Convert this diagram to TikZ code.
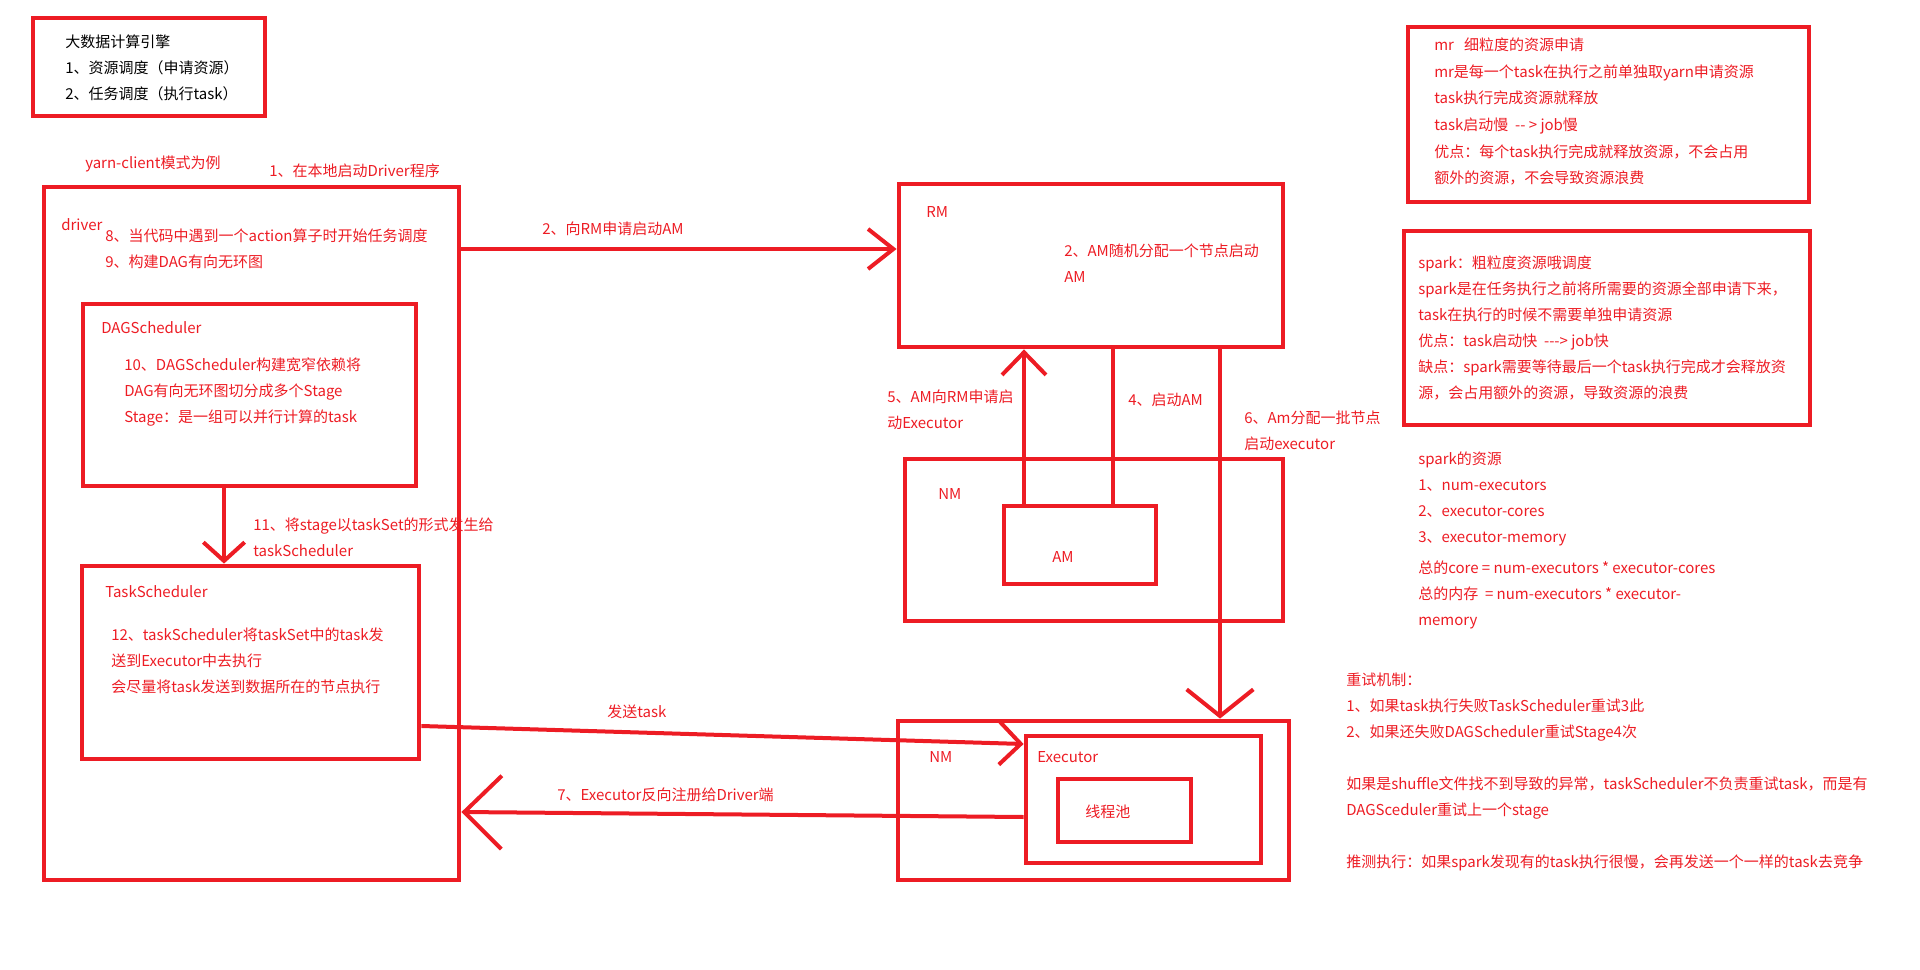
\documentclass[tikz,border=0pt]{standalone}
\usepackage{fontspec}
\newfontfamily\cjkfont{Noto Sans CJK SC}
\usetikzlibrary{arrows.meta}
\definecolor{PaintRed}{HTML}{ED1C24}

\begin{document}
\begin{tikzpicture}[x=0.75pt,y=-0.75pt,
  sz/.style 2 args={minimum width=#1*0.75pt,minimum height=#2*0.75pt}]
  \tikzstyle{box}=[draw=PaintRed,line width=3.6pt,inner sep=0pt]
  \tikzstyle{link}=[draw=PaintRed,line width=3pt]
  \tikzstyle{txt}=[anchor=west,inner sep=0pt,align=left,text=PaintRed,
    font=\cjkfont\fontsize{11.25}{19.5}\selectfont]
  \useasboundingbox (0,0) rectangle (1920,970);

  % texts
  \node[txt,text=black] (introtxt) at (65,68) {大数据计算引擎\\1、资源调度（申请资源）\\2、任务调度（执行task）};
  \node[txt] (mode) at (85,164) {yarn-client模式为例};
  \node[txt] (step1) at (269,171) {1、在本地启动Driver程序};
  \node[txt] (drvlbl) at (61,225) {driver};
  \node[txt] (step8) at (105,248.5) {8、当代码中遇到一个action算子时开始任务调度\\9、构建DAG有向无环图};
  \node[txt] (daglbl) at (101,328) {DAGScheduler};
  \node[txt] (dagtxt) at (124,391.5) {10、DAGScheduler构建宽窄依赖将\\DAG有向无环图切分成多个Stage\\Stage：是一组可以并行计算的task};
  \node[txt] (step11) at (253,537.5) {11、将stage以taskSet的形式发生给\\taskScheduler};
  \node[txt] (tslbl) at (105,592) {TaskScheduler};
  \node[txt] (tstxt) at (111,660.5) {12、taskScheduler将taskSet中的task发\\送到Executor中去执行\\会尽量将task发送到数据所在的节点执行};
  \node[txt] (step2) at (542,229) {2、向RM申请启动AM};
  \node[txt] (rmlbl) at (926,212) {RM};
  \node[txt] (rmtxt) at (1064,263) {2、AM随机分配一个节点启动\\AM};
  \node[txt] (step5) at (887,409.5) {5、AM向RM申请启\\动Executor};
  \node[txt] (step4) at (1128,400) {4、启动AM};
  \node[txt] (step6) at (1244,430.5) {6、Am分配一批节点\\启动executor};
  \node[txt] (nmlbla) at (938,494) {NM};
  \node[txt] (amlbl) at (1052,557) {AM};
  \node[txt] (sendlbl) at (607,712) {发送task};
  \node[txt] (step7) at (557,795) {7、Executor反向注册给Driver端};
  \node[txt] (nmlblb) at (929,757) {NM};
  \node[txt] (execlbl) at (1037,757) {Executor};
  \node[txt] (poollbl) at (1085,812) {线程池};
  \node[txt,font=\cjkfont\fontsize{11.25}{20}\selectfont] (mrtxt) at (1434,111.5) {mr~~~细粒度的资源申请\\mr是每一个task在执行之前单独取yarn申请资源\\task执行完成资源就释放\\task启动慢~~-{}- > job慢\\优点：每个task执行完成就释放资源，不会占用\\额外的资源，不会导致资源浪费};
  \node[txt] (sparktxt) at (1418,328) {spark：粗粒度资源哦调度\\spark是在任务执行之前将所需要的资源全部申请下来，\\task在执行的时候不需要单独申请资源\\优点：task启动快~~-{}-{}-> job快\\缺点：spark需要等待最后一个task执行完成才会释放资\\源，会占用额外的资源，导致资源的浪费};
  \node[txt] (restxt) at (1418,499) {spark的资源\\1、num-executors\\2、executor-cores\\3、executor-memory};
  \node[txt] (totaltxt) at (1418,595) {总的core = num-executors * executor-cores\\总的内存~~= num-executors * executor-\\memory};
  \node[txt] (retrytxt) at (1346,771.5) {重试机制：\\1、如果task执行失败TaskScheduler重试3此\\2、如果还失败DAGScheduler重试Stage4次\\[19.5pt]如果是shuffle文件找不到导致的异常，taskScheduler不负责重试task，而是有\\DAGSceduler重试上一个stage\\[19.5pt]推测执行：如果spark发现有的task执行很慢，会再发送一个一样的task去竞争};

  % boxes
  \node[box,sz={232}{98}] (intro) at (149,67) {};
  \node[box,sz={415}{693}] (driver) at (251.5,533.5) {};
  \node[box,sz={333}{182}] (dag) at (249.5,395) {};
  \node[box,sz={337}{193}] (tasksch) at (250.5,662.5) {};
  \node[box,sz={384}{163}] (rm) at (1091,265.5) {};
  \node[box,sz={378}{162}] (nmam) at (1094,540) {};
  \node[box,sz={152}{78}] (am) at (1080,545) {};
  \node[box,sz={391}{159}] (nmexec) at (1093.5,800.5) {};
  \node[box,sz={235}{127}] (executor) at (1143.5,799.5) {};
  \node[box,sz={133}{63}] (pool) at (1124.5,810.5) {};
  \node[box,sz={401}{175}] (mrnote) at (1608.5,114.5) {};
  \node[box,sz={406}{194}] (sparknote) at (1607,328) {};

  % connectors
  \draw[link,-{Straight Barb[length=19pt,width=30pt]}] (driver.east |- 0,249) -- (rm.west |- 0,249);
  \draw[link,-{Straight Barb[length=14pt,width=31pt]}] (dag.south -| 224,0) -- (tasksch.north -| 224,0);
  \draw[link,-{Straight Barb[length=17pt,width=33pt]}] (am.north -| 1024,0) -- (rm.south -| 1024,0);
  \draw[link] (rm.south -| 1113,0) -- (am.north -| 1113,0);
  \draw[link,-{Straight Barb[length=20pt,width=50pt]}] (rm.south -| 1220,0) -- (nmexec.north -| 1220,0);
  \draw[link,-{Straight Barb[length=16pt,width=32pt]}] (tasksch.east |- 0,726) -- (executor.west |- 0,744);
  \draw[link,-{Straight Barb[length=28pt,width=55pt]}] (executor.west |- 0,817) -- (driver.east |- 0,812);
\end{tikzpicture}
\end{document}
